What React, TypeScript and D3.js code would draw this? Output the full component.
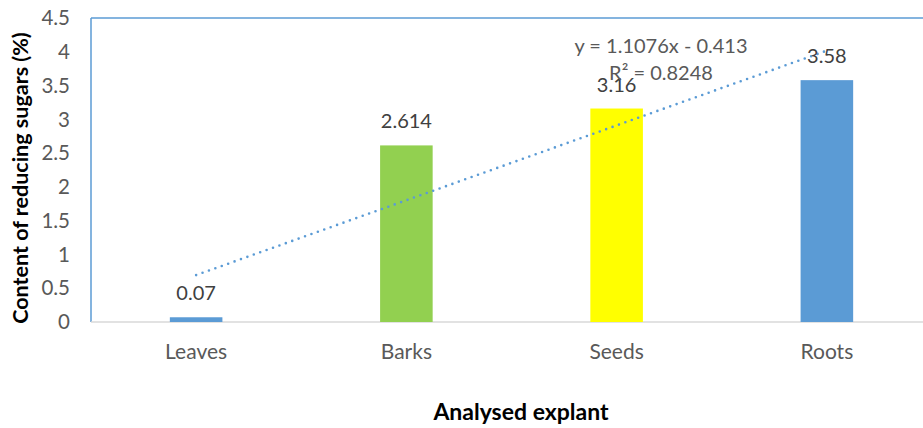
import React from "react";
import * as d3 from "d3";

const categories = ["Leaves", "Barks", "Seeds", "Roots"];
const values = [0.07, 2.614, 3.16, 3.58];
const barColors = ["#5B9BD5", "#92D050", "#FFFF00", "#5B9BD5"];
const valueLabels = ["0.07", "2.614", "3.16", "3.58"];
const yTicks = [0, 0.5, 1, 1.5, 2, 2.5, 3, 3.5, 4, 4.5];
const trendSlope = 1.1076;
const trendIntercept = -0.413;
const trendLabel1 = "y = 1.1076x - 0.413";
const trendLabel2 = "R² = 0.8248";

const W = 923;
const H = 428;
const left = 91;
const right = 932;
const top = 18;
const bottom = 322;
const font = "Lato, 'Open Sans', sans-serif";

export default function App() {
  const x = d3
    .scaleBand<string>()
    .domain(categories)
    .range([left, right])
    .paddingInner(0.75)
    .paddingOuter(0.375);
  const y = d3.scaleLinear().domain([0, 4.5]).range([bottom, top]);
  const cx = (i: number) => (x(categories[i]) as number) + x.bandwidth() / 2;

  const trendPts: [number, number][] = categories.map((_, i) => [
    cx(i),
    y(trendSlope * (i + 1) + trendIntercept),
  ]);
  const line = d3.line();

  return (
    <div style={{ position: "absolute", left: 0, top: 0 }}>
      <svg width={W} height={H} style={{ display: "block", background: "#fff" }}>
        <line x1={left} x2={W} y1={top} y2={top} stroke="#5B9BD5" strokeWidth={1.5} />
        <line x1={left} x2={left} y1={top} y2={bottom} stroke="#5B9BD5" strokeWidth={1.5} />
        <line x1={left} x2={W} y1={bottom} y2={bottom} stroke="#D9D9D9" strokeWidth={1.5} />

        {yTicks.map((t) => (
          <text
            key={t}
            x={70}
            y={y(t)}
            dy="0.35em"
            textAnchor="end"
            fontFamily={font}
            fontSize={20.5}
            fill="#595959"
          >
            {String(t)}
          </text>
        ))}

        {categories.map((c, i) => (
          <rect
            key={c}
            x={x(c)}
            y={y(values[i])}
            width={x.bandwidth()}
            height={bottom - y(values[i])}
            fill={barColors[i]}
          />
        ))}

        {categories.map((c, i) => (
          <text
            key={c}
            x={cx(i)}
            y={359}
            textAnchor="middle"
            fontFamily={font}
            fontSize={21}
            fill="#595959"
          >
            {c}
          </text>
        ))}

        <path
          d={line(trendPts) || ""}
          fill="none"
          stroke="#5B9BD5"
          strokeWidth={2.6}
          strokeLinecap="round"
          strokeDasharray="0 6.8"
        />

        {categories.map((c, i) => (
          <text
            key={c}
            x={cx(i)}
            y={y(values[i]) - 17}
            textAnchor="middle"
            fontFamily={font}
            fontSize={20}
            fill="#404040"
          >
            {valueLabels[i]}
          </text>
        ))}

        <text x={661} y={53} textAnchor="middle" fontFamily={font} fontSize={20} fill="#595959">
          {trendLabel1}
        </text>
        <text x={661} y={80} textAnchor="middle" fontFamily={font} fontSize={20} fill="#595959">
          {trendLabel2}
        </text>

        <text
          x={521}
          y={420}
          textAnchor="middle"
          fontFamily={font}
          fontSize={23}
          fontWeight="bold"
          fill="#000"
        >
          Analysed explant
        </text>
        <text
          transform="translate(28,178) rotate(-90)"
          textAnchor="middle"
          fontFamily={font}
          fontSize={21.5}
          fontWeight="bold"
          fill="#000"
        >
          Content of reducing sugars (%)
        </text>
      </svg>
    </div>
  );
}
